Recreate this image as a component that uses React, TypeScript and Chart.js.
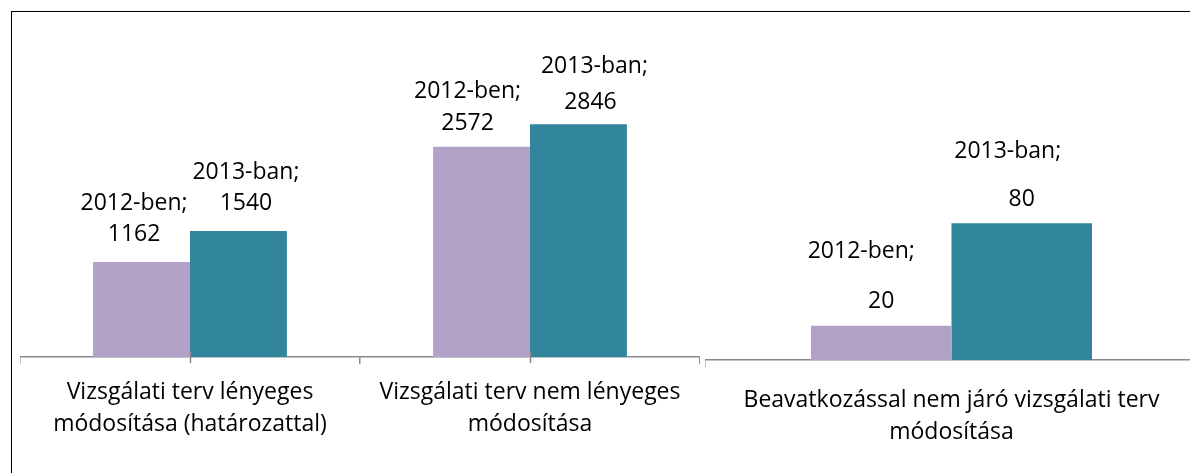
import React, { useEffect, useRef } from "react";
import { Chart, registerables } from "chart.js";

Chart.register(...registerables);

// ---- data ----
const categoriesMain: string[][] = [
  ["Vizsgálati terv lényeges", "módosítása (határozattal)"],
  ["Vizsgálati terv nem lényeges", "módosítása"],
];
const categoriesSide: string[][] = [["Beavatkozással nem járó vizsgálati terv", "módosítása"]];
const seriesNames = ["2012-ben", "2013-ban"];
const values2012Main = [1162, 2572];
const values2013Main = [1540, 2846];
const values2012Side = [20];
const values2013Side = [80];

// ---- style ----
const PURPLE = "#B3A2C7";
const TEAL = "#31859C";
const AXIS = "#8a8a8a";
const FONT = '"Open Sans", sans-serif';
const FONT_SIZE = 23;
const AXIS_BAND = 90;

type LabelLayout = { dx1: number; dx2: number; gap: number; sp: number };
// per dataset, per category: offset of the two-line data label relative to the bar
const labelLayoutMain: LabelLayout[][] = [
  [
    { dx1: -7.5, dx2: -7.5, gap: 29.5, sp: 31 },
    { dx1: -14, dx2: -14, gap: 25, sp: 32 },
  ],
  [
    { dx1: 7.5, dx2: 7.5, gap: 29, sp: 31 },
    { dx1: 16, dx2: 12, gap: 24, sp: 36 },
  ],
];
const labelLayoutSide: LabelLayout[][] = [
  [{ dx1: -20, dx2: 0, gap: 26, sp: 50 }],
  [{ dx1: -14, dx2: 0, gap: 25, sp: 48 }],
];

function dataLabelPlugin(layout: LabelLayout[][]) {
  return {
    id: "twoLineLabels",
    afterDatasetsDraw(chart: any) {
      const ctx = chart.ctx as CanvasRenderingContext2D;
      ctx.save();
      ctx.font = `${FONT_SIZE}px ${FONT}`;
      ctx.fillStyle = "#000";
      ctx.textAlign = "center";
      ctx.textBaseline = "alphabetic";
      const capHalf = FONT_SIZE * 0.357;
      chart.data.datasets.forEach((ds: any, di: number) => {
        const meta = chart.getDatasetMeta(di);
        meta.data.forEach((bar: any, i: number) => {
          const L = layout[di][i];
          const y2 = bar.y - L.gap;
          const y1 = y2 - L.sp;
          ctx.fillText(`${ds.label};`, bar.x + L.dx1, y1 + capHalf);
          ctx.fillText(String(ds.data[i]), bar.x + L.dx2, y2 + capHalf);
        });
      });
      ctx.restore();
    },
  };
}

const midTickPlugin = {
  id: "midTicks",
  afterDraw(chart: any) {
    const xs = chart.scales.x;
    const ctx = chart.ctx as CanvasRenderingContext2D;
    ctx.save();
    ctx.strokeStyle = AXIS;
    ctx.lineWidth = 1.5;
    chart.data.labels.forEach((_: any, i: number) => {
      const px = Math.round(xs.getPixelForValue(i)) + 0.5;
      ctx.beginPath();
      ctx.moveTo(px, xs.top - 5);
      ctx.lineTo(px, xs.top + 6);
      ctx.stroke();
    });
    ctx.restore();
  },
};

function makeConfig(
  labels: string[][],
  v2012: number[],
  v2013: number[],
  yMax: number,
  tickPadding: number,
  plugins: any[]
): any {
  return {
    type: "bar",
    data: {
      labels,
      datasets: [
        { label: seriesNames[0], data: v2012, backgroundColor: PURPLE, borderWidth: 0 },
        { label: seriesNames[1], data: v2013, backgroundColor: TEAL, borderWidth: 0 },
      ],
    },
    options: {
      animation: false,
      responsive: false,
      maintainAspectRatio: false,
      devicePixelRatio: 1,
      layout: { padding: 0 },
      datasets: { bar: { categoryPercentage: 0.57, barPercentage: 1 } },
      plugins: { legend: { display: false }, tooltip: { enabled: false }, title: { display: false } },
      scales: {
        y: { display: false, min: 0, max: yMax },
        x: {
          offset: true,
          afterFit: (scale: any) => {
            scale.height = AXIS_BAND;
          },
          border: { display: true, color: AXIS, width: 1.5 },
          grid: {
            offset: true,
            drawOnChartArea: false,
            drawTicks: true,
            tickLength: 7,
            color: AXIS,
            lineWidth: 1.5,
          },
          ticks: {
            autoSkip: false,
            maxRotation: 0,
            minRotation: 0,
            padding: tickPadding,
            color: "#000",
            font: { family: FONT, size: FONT_SIZE, lineHeight: 32 / FONT_SIZE },
          },
        },
      },
    },
    plugins,
  };
}

export default function App() {
  const mainRef = useRef<HTMLCanvasElement>(null);
  const sideRef = useRef<HTMLCanvasElement>(null);

  useEffect(() => {
    const main = new Chart(
      mainRef.current!,
      makeConfig(categoriesMain, values2012Main, values2013Main, 4000, 12, [
        dataLabelPlugin(labelLayoutMain),
        midTickPlugin,
      ])
    );
    const side = new Chart(
      sideRef.current!,
      makeConfig(categoriesSide, values2012Side, values2013Side, 200, 17, [
        dataLabelPlugin(labelLayoutSide),
      ])
    );
    return () => {
      main.destroy();
      side.destroy();
    };
  }, []);

  // plot areas: main 30..357, side 18..360 (page px)
  return (
    <div
      style={{
        position: "fixed",
        left: 0,
        top: 0,
        width: 1190,
        height: 473,
        overflow: "hidden",
        background: "#fff",
      }}
    >
      <div
        style={{
          position: "absolute",
          left: 11,
          top: 11,
          width: 1300,
          height: 600,
          borderLeft: "1.5px solid #000",
          borderTop: "1.5px solid #000",
        }}
      />
      <canvas
        ref={mainRef}
        width={680}
        height={327 + AXIS_BAND}
        style={{ position: "absolute", left: 20, top: 30, width: 680, height: 327 + AXIS_BAND }}
      />
      <canvas
        ref={sideRef}
        width={493}
        height={342 + AXIS_BAND}
        style={{ position: "absolute", left: 705, top: 18, width: 493, height: 342 + AXIS_BAND }}
      />
    </div>
  );
}
